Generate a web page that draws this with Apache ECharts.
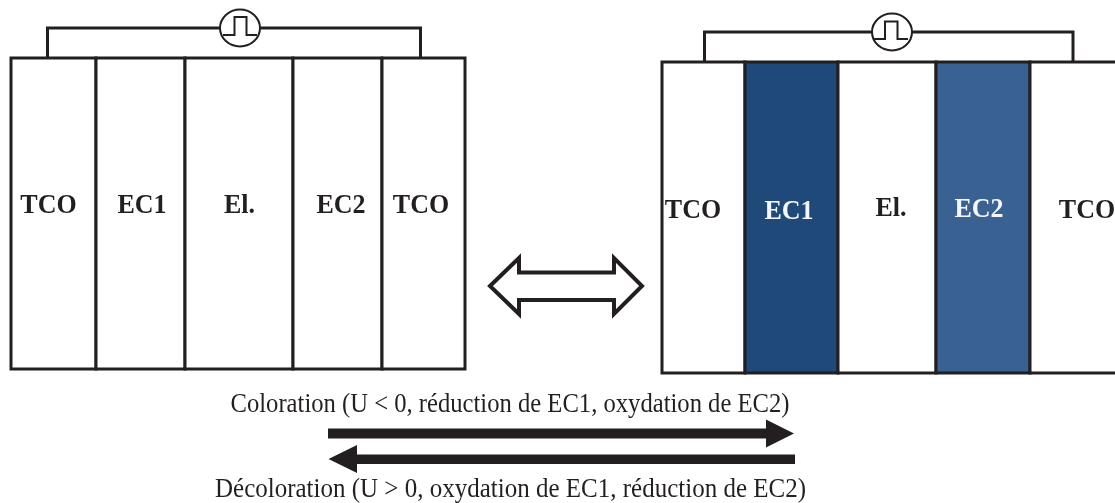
<!DOCTYPE html>
<html>
<head>
<meta charset="utf-8">
<style>
  html, body { margin: 0; padding: 0; background: #fff; }
  #chart { width: 1115px; height: 503px; }
</style>
<script src="https://cdn.jsdelivr.net/npm/echarts@6/dist/echarts.min.js"></script>
</head>
<body>
<div id="chart"></div>
<script>
// values, in the picture's own units
let layerNames = ["TCO", "EC1", "El.", "EC2", "TCO"];
let leftEdges = [11, 96, 185, 293, 382, 465];
let leftSpan = [58, 369];
let leftLabelX = [48.5, 142, 239.5, 341, 421];
let leftLabelY = [205.7, 205.7, 205.7, 205.7, 205.7];
let rightEdges = [662, 745, 838, 936, 1030, 1125];
let rightSpan = [62, 373];
let rightLabelX = [693, 789, 891, 979, 1087];
let rightLabelY = [211.3, 212, 209, 209.7, 210.7];

let leftWire = [[47.5, 58], [47.5, 28], [420.5, 28], [420.5, 58]];
let rightWire = [[704.5, 62], [704.5, 32], [1073, 32], [1073, 62]];
let leftPulse = [[223, 35], [234.5, 35], [234.5, 17], [246.5, 17], [246.5, 35], [257, 35]];
let rightPulse = [[873, 39], [885, 39], [885, 21.5], [897.5, 21.5], [897.5, 39], [908, 39]];
let sources = [[240, 28], [892, 32]];
let sourceRadius = [20, 18.5];

let hollowArrow = [[490, 286], [519, 258], [519, 272.5], [614, 272.5], [614, 258], [642, 286],
  [614, 314], [614, 300], [519, 300], [519, 314]];
let forwardArrow = [[328, 428.5], [766, 428.5], [766, 419.5], [794, 433.5], [766, 447.5], [766, 438.5], [328, 438.5]];
let backArrow = [[795, 454.5], [357, 454.5], [357, 445], [328.5, 459], [357, 473], [357, 464], [795, 464]];

let captions = [
  "Coloration (U < 0, réduction de EC1, oxydation de EC2)",
  "Décoloration (U > 0, oxydation de EC1, réduction de EC2)"
];
let captionX = [510, 510.5];
let captionY = [404.2, 490];

let INK = "#231f20";
let EC1_BLUE = "#1f4979";
let EC2_BLUE = "#396192";

let chart = echarts.init(document.querySelector("#chart"), null, { renderer: "canvas" });

// one cell per layer, only the right stack is coloured
let cells = function(edges, span, fills){
  return layerNames.map((name, i) => [edges[i], edges[i + 1], span[0], span[1], fills[i]]);
};

let cellData = cells(leftEdges, leftSpan, ["#fff", "#fff", "#fff", "#fff", "#fff"])
  .concat(cells(rightEdges, rightSpan, ["#fff", EC1_BLUE, "#fff", EC2_BLUE, "#fff"]));

let labelData = [];
layerNames.forEach((name, i) => {
  labelData.push([leftLabelX[i], leftLabelY[i], name, INK]);
});
layerNames.forEach((name, i) => {
  labelData.push([rightLabelX[i], rightLabelY[i], name, (i == 1 || i == 3) ? "#f4f6f9" : INK]);
});

let lineSeries = function(points, width, z){
  return {
    type: "line",
    z: z,
    data: points,
    showSymbol: false,
    silent: true,
    animation: false,
    clip: false,
    lineStyle: { color: INK, width: width, join: "miter" }
  };
};

let polygonSeries = function(points, fill, stroke, width){
  return {
    type: "custom",
    z: 5,
    data: [0],
    silent: true,
    animation: false,
    clip: false,
    renderItem: function(params, api){
      return {
        type: "polygon",
        shape: { points: points.map(p => api.coord(p)) },
        style: { fill: fill, stroke: stroke, lineWidth: width, lineJoin: "miter" }
      };
    }
  };
};

let option = {
  backgroundColor: "#fff",
  animation: false,
  grid: { left: 0, right: 0, top: 0, bottom: 0 },
  xAxis: { type: "value", min: 0, max: 1115, show: false },
  yAxis: { type: "value", min: 0, max: 503, inverse: true, show: false },
  series: [
    lineSeries(leftWire, 3, 1),
    lineSeries(rightWire, 3, 1),
    {
      type: "custom",
      z: 2,
      data: cellData,
      silent: true,
      animation: false,
      clip: true,
      renderItem: function(params, api){
        let d = cellData[params.dataIndex];
        let a = api.coord([d[0], d[2]]);
        let b = api.coord([d[1], d[3]]);
        return {
          type: "rect",
          shape: { x: a[0], y: a[1], width: b[0] - a[0], height: b[1] - a[1] },
          style: { fill: d[4], stroke: INK, lineWidth: 3 }
        };
      }
    },
    {
      type: "custom",
      z: 3,
      data: sources,
      silent: true,
      animation: false,
      clip: false,
      renderItem: function(params, api){
        let c = api.coord(sources[params.dataIndex]);
        return {
          type: "ellipse",
          shape: { cx: c[0], cy: c[1], rx: sourceRadius[0], ry: sourceRadius[1] },
          style: { fill: "#fff", stroke: INK, lineWidth: 2 }
        };
      }
    },
    lineSeries(leftPulse, 2, 4),
    lineSeries(rightPulse, 2, 4),
    polygonSeries(hollowArrow, "#fff", INK, 4),
    polygonSeries(forwardArrow, INK, null, 0),
    polygonSeries(backArrow, INK, null, 0),
    {
      type: "custom",
      z: 6,
      data: labelData,
      silent: true,
      animation: false,
      clip: false,
      renderItem: function(params, api){
        let d = labelData[params.dataIndex];
        let c = api.coord([d[0], d[1]]);
        // the source figure is a little stretched vertically
        return {
          type: "text",
          x: c[0],
          y: c[1],
          scaleY: 1.07,
          style: {
            text: d[2], x: 0, y: 0, fill: d[3],
            font: "bold 26px 'Liberation Serif'",
            align: "center", verticalAlign: "middle"
          }
        };
      }
    },
    {
      type: "custom",
      z: 6,
      data: captions,
      silent: true,
      animation: false,
      clip: false,
      renderItem: function(params, api){
        let i = params.dataIndex;
        let c = api.coord([captionX[i], captionY[i]]);
        return {
          type: "text",
          x: c[0],
          y: c[1],
          scaleY: 1.13,
          scaleX: i == 0 ? 0.985 : 1,
          style: {
            text: captions[i], x: 0, y: 0, fill: INK,
            font: "25px 'Liberation Serif'",
            align: "center", verticalAlign: "middle"
          }
        };
      }
    }
  ]
};

chart.setOption(option);
window.addEventListener("resize", chart.resize);
</script>
</body>
</html>
